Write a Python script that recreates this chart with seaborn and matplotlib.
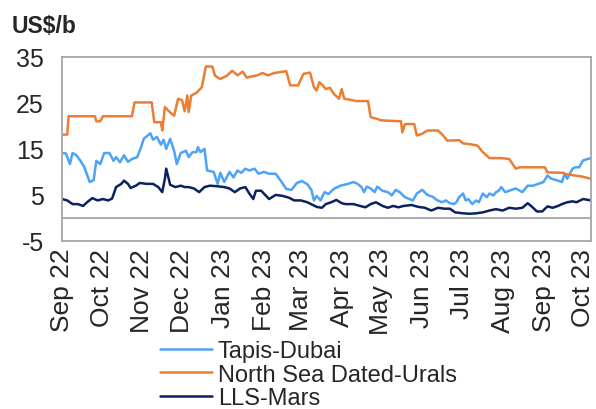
import pandas as pd
import matplotlib
matplotlib.use('Agg')
import matplotlib.pyplot as plt
import matplotlib.dates as mdates
import seaborn as sns

# Tapis-Dubai spread, US$/b
tapis_dates = [
    '2022-09-01', '2022-09-04', '2022-09-07', '2022-09-09', '2022-09-12', '2022-09-15',
    '2022-09-18', '2022-09-22', '2022-09-25', '2022-09-27', '2022-09-30', '2022-10-03',
    '2022-10-07', '2022-10-10', '2022-10-12', '2022-10-15', '2022-10-18', '2022-10-21',
    '2022-10-24', '2022-10-28', '2022-10-31', '2022-11-02', '2022-11-07', '2022-11-09',
    '2022-11-12', '2022-11-15', '2022-11-17', '2022-11-19', '2022-11-22', '2022-11-25',
    '2022-11-27', '2022-11-30', '2022-12-04', '2022-12-06', '2022-12-09', '2022-12-12',
    '2022-12-13', '2022-12-15', '2022-12-18', '2022-12-20', '2022-12-25', '2022-12-28',
    '2022-12-30', '2023-01-02', '2023-01-06', '2023-01-09', '2023-01-12', '2023-01-15',
    '2023-01-18', '2023-01-21', '2023-01-25', '2023-01-28', '2023-02-01', '2023-02-05',
    '2023-02-10', '2023-02-14', '2023-02-18', '2023-02-22', '2023-02-26', '2023-03-02',
    '2023-03-06', '2023-03-09', '2023-03-11', '2023-03-13', '2023-03-16', '2023-03-19',
    '2023-03-22', '2023-03-26', '2023-03-31', '2023-04-06', '2023-04-10', '2023-04-13',
    '2023-04-16', '2023-04-18', '2023-04-20', '2023-04-23', '2023-04-26', '2023-04-28',
    '2023-05-02', '2023-05-06', '2023-05-09', '2023-05-12', '2023-05-15', '2023-05-19',
    '2023-05-25', '2023-05-28', '2023-06-01', '2023-06-05', '2023-06-09', '2023-06-12',
    '2023-06-16', '2023-06-19', '2023-06-22', '2023-06-25', '2023-06-27', '2023-06-29',
    '2023-07-02', '2023-07-04', '2023-07-06', '2023-07-09', '2023-07-12', '2023-07-14',
    '2023-07-17', '2023-07-20', '2023-07-22', '2023-07-25', '2023-07-27', '2023-07-29',
    '2023-07-31', '2023-08-03', '2023-08-06', '2023-08-11', '2023-08-16', '2023-08-20',
    '2023-08-24', '2023-08-28', '2023-09-01', '2023-09-04', '2023-09-07', '2023-09-11',
    '2023-09-15', '2023-09-17', '2023-09-19', '2023-09-23', '2023-09-25', '2023-09-28',
    '2023-10-01', '2023-10-07',
]
tapis_values = [
    14.1, 14.0, 11.7, 14.1, 13.6, 12.4,
    11.0, 7.8, 8.2, 12.4, 11.7, 14.1,
    14.1, 12.4, 13.2, 12.1, 13.6, 12.2,
    12.8, 13.2, 15.4, 17.2, 18.4, 17.0,
    17.6, 15.9, 17.0, 15.0, 17.2, 14.6,
    11.7, 14.1, 14.6, 13.2, 14.3, 14.3,
    15.4, 14.3, 15.0, 10.3, 10.0, 7.4,
    9.8, 7.8, 10.0, 8.8, 10.3, 9.8,
    10.7, 10.3, 10.7, 9.6, 10.0, 9.6,
    9.6, 8.0, 6.3, 6.1, 7.6, 8.0,
    7.3, 6.1, 3.8, 4.8, 3.8, 5.6,
    5.2, 6.3, 7.0, 7.4, 7.8, 7.4,
    6.7, 5.6, 6.8, 6.4, 5.6, 6.8,
    5.9, 5.6, 4.9, 6.1, 5.6, 4.5,
    3.8, 5.3, 6.1, 5.0, 4.6, 3.9,
    3.4, 3.8, 3.2, 3.0, 3.4, 4.5,
    5.3, 3.8, 4.1, 3.0, 3.8, 3.4,
    5.3, 4.5, 5.3, 4.9, 5.6, 5.9,
    6.7, 5.6, 5.9, 6.4, 5.6, 7.0,
    7.0, 7.4, 7.8, 9.2, 8.5, 8.2,
    7.8, 9.6, 8.5, 10.7, 11.0, 11.0,
    12.5, 13.0,
]

# North Sea Dated-Urals spread, US$/b
urals_dates = [
    '2022-09-01', '2022-09-05', '2022-09-06', '2022-09-26', '2022-09-27', '2022-09-30',
    '2022-10-02', '2022-10-24', '2022-10-26', '2022-11-08', '2022-11-10', '2022-11-15',
    '2022-11-16', '2022-11-18', '2022-11-21', '2022-11-25', '2022-11-28', '2022-12-01',
    '2022-12-03', '2022-12-05', '2022-12-06', '2022-12-08', '2022-12-12', '2022-12-16',
    '2022-12-19', '2022-12-24', '2022-12-26', '2022-12-30', '2023-01-04', '2023-01-08',
    '2023-01-12', '2023-01-16', '2023-01-19', '2023-01-27', '2023-01-31', '2023-02-04',
    '2023-02-09', '2023-02-18', '2023-02-21', '2023-02-27', '2023-03-03', '2023-03-08',
    '2023-03-11', '2023-03-13', '2023-03-15', '2023-03-17', '2023-03-20', '2023-03-23',
    '2023-03-26', '2023-03-30', '2023-04-01', '2023-04-03', '2023-04-07', '2023-04-12',
    '2023-04-21', '2023-04-23', '2023-04-27', '2023-05-01', '2023-05-16', '2023-05-17',
    '2023-05-19', '2023-05-26', '2023-05-28', '2023-06-01', '2023-06-05', '2023-06-13',
    '2023-06-17', '2023-06-20', '2023-06-29', '2023-07-02', '2023-07-08', '2023-07-13',
    '2023-07-17', '2023-07-22', '2023-07-31', '2023-08-06', '2023-08-11', '2023-08-14',
    '2023-09-02', '2023-09-04', '2023-09-16', '2023-09-18', '2023-09-30', '2023-10-07',
]
urals_values = [
    18.1, 18.1, 22.1, 22.1, 21.0, 21.0,
    22.1, 22.1, 25.1, 25.1, 20.8, 20.8,
    19.0, 24.1, 23.2, 22.2, 25.9, 25.6,
    23.2, 26.6, 23.0, 26.6, 27.2, 28.4,
    32.9, 32.9, 30.9, 30.2, 30.9, 32.0,
    31.0, 31.8, 30.5, 31.0, 31.5, 31.0,
    31.5, 31.9, 28.8, 28.8, 31.3, 31.6,
    28.4, 27.7, 29.5, 29.0, 28.0, 28.3,
    27.0, 25.9, 28.0, 25.9, 25.7, 25.4,
    25.4, 21.9, 21.6, 21.2, 21.0, 18.6,
    20.4, 20.4, 17.9, 18.3, 19.0, 19.0,
    17.9, 16.8, 16.9, 16.2, 16.0, 15.7,
    14.3, 13.0, 13.0, 12.8, 10.7, 11.0,
    11.0, 9.9, 9.8, 9.5, 9.0, 8.5,
]

# LLS-Mars spread, US$/b
lls_dates = [
    '2022-09-01', '2022-09-05', '2022-09-09', '2022-09-13', '2022-09-17', '2022-09-20',
    '2022-09-24', '2022-09-28', '2022-10-02', '2022-10-06', '2022-10-09', '2022-10-12',
    '2022-10-16', '2022-10-18', '2022-10-21', '2022-10-23', '2022-10-27', '2022-10-30',
    '2022-11-04', '2022-11-09', '2022-11-13', '2022-11-16', '2022-11-18', '2022-11-19',
    '2022-11-22', '2022-11-26', '2022-11-30', '2022-12-03', '2022-12-06', '2022-12-10',
    '2022-12-14', '2022-12-18', '2022-12-22', '2022-12-27', '2023-01-02', '2023-01-06',
    '2023-01-10', '2023-01-14', '2023-01-18', '2023-01-21', '2023-01-24', '2023-01-26',
    '2023-01-30', '2023-02-05', '2023-02-10', '2023-02-15', '2023-02-20', '2023-02-24',
    '2023-03-01', '2023-03-06', '2023-03-13', '2023-03-17', '2023-03-20', '2023-03-24',
    '2023-03-28', '2023-04-01', '2023-04-04', '2023-04-10', '2023-04-15', '2023-04-19',
    '2023-04-23', '2023-04-27', '2023-05-02', '2023-05-06', '2023-05-10', '2023-05-14',
    '2023-05-18', '2023-05-24', '2023-05-29', '2023-06-03', '2023-06-08', '2023-06-13',
    '2023-06-18', '2023-06-22', '2023-06-26', '2023-07-02', '2023-07-07', '2023-07-12',
    '2023-07-17', '2023-07-22', '2023-07-27', '2023-08-01', '2023-08-06', '2023-08-11',
    '2023-08-16', '2023-08-20', '2023-08-23', '2023-08-27', '2023-08-31', '2023-09-04',
    '2023-09-08', '2023-09-12', '2023-09-15', '2023-09-19', '2023-09-23', '2023-09-26',
    '2023-10-01', '2023-10-07',
]
lls_values = [
    4.1, 3.8, 3.0, 3.0, 2.6, 3.4,
    4.3, 3.8, 4.1, 3.8, 4.2, 6.7,
    7.4, 8.1, 7.4, 6.5, 7.0, 7.6,
    7.4, 7.4, 6.7, 5.6, 8.5, 10.7,
    7.2, 6.7, 7.0, 6.7, 6.7, 6.4,
    5.6, 6.7, 7.0, 6.9, 6.7, 6.4,
    5.6, 6.4, 6.7, 5.3, 4.1, 5.9,
    5.9, 4.1, 5.0, 4.8, 4.4, 3.8,
    3.8, 3.4, 2.4, 2.2, 3.0, 3.4,
    3.9, 3.2, 3.0, 3.0, 2.6, 2.3,
    3.0, 3.4, 2.6, 2.2, 2.6, 2.3,
    2.6, 2.8, 2.4, 2.2, 1.6, 2.2,
    2.0, 2.0, 1.2, 1.0, 0.9, 1.0,
    1.2, 1.6, 1.9, 1.6, 2.2, 2.0,
    2.2, 3.2, 2.5, 1.4, 1.4, 2.5,
    2.2, 2.6, 3.0, 3.4, 3.6, 3.4,
    4.1, 3.8,
]

series_names = ['Tapis-Dubai', 'North Sea Dated-Urals', 'LLS-Mars']
series_colors = ['#4DA3F7', '#ED7D31', '#0B2160']
y_ticks = [-5, 5, 15, 25, 35]

frames = []
for name, d, v in zip(series_names,
                      [tapis_dates, urals_dates, lls_dates],
                      [tapis_values, urals_values, lls_values]):
    frames.append(pd.DataFrame({'date': pd.to_datetime(d), 'value': v, 'series': name}))
df = pd.concat(frames, ignore_index=True)

sns.set_style('white')
plt.rcParams['font.family'] = ['Liberation Sans', 'DejaVu Sans']
plt.rcParams['axes.unicode_minus'] = False

fig = plt.figure(figsize=(5.96, 4.10), dpi=100)
ax = fig.add_axes([0.104, 0.41, 0.8876, 0.4488])

sns.lineplot(data=df, x='date', y='value', hue='series', hue_order=series_names,
             palette=series_colors, estimator=None, linewidth=1.8, ax=ax)

ax.axhline(0, color='#a6a6a6', linewidth=1.3, zorder=1)
for sp in ax.spines.values():
    sp.set_color('#a6a6a6')
    sp.set_linewidth(1.3)

ax.set_xlim(pd.Timestamp('2022-09-01'), pd.Timestamp('2023-10-07'))
ax.set_ylim(-5, 35)
ax.set_yticks(y_ticks)
ax.xaxis.set_major_locator(mdates.MonthLocator())
ax.xaxis.set_major_formatter(mdates.DateFormatter('%b %y'))
ax.tick_params(axis='y', length=0, labelsize=18, pad=13)
ax.tick_params(axis='x', length=0, labelsize=19, pad=5, labelrotation=90)
ax.set_xlabel('')
ax.set_ylabel('')

fig.text(0.02, 1 - 33 / 410, 'US$/b', fontsize=16.5, fontweight='bold', va='baseline')

handles, labels = ax.get_legend_handles_labels()
ax.get_legend().remove()
fig.legend(handles, labels, loc='upper left', bbox_to_anchor=(160 / 596, 1 - 341 / 410),
           frameon=False, fontsize=17, handlelength=2.2, handletextpad=0.25,
           labelspacing=0.07, borderpad=0, borderaxespad=0)

fig.savefig('out.png', dpi=100)
